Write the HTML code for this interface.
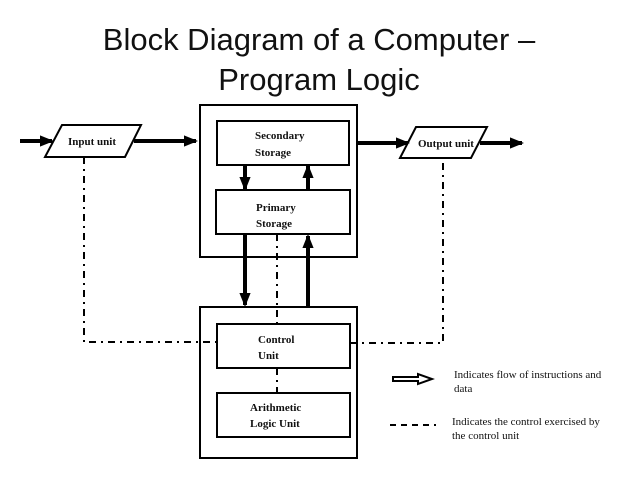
<!DOCTYPE html>
<html><head><style>
body{margin:0;background:#fff;width:638px;height:478px;overflow:hidden;font-family:"Liberation Sans",sans-serif}
.t{position:absolute;left:0;width:638px;text-align:center;font-size:31px;color:#111}
</style></head><body>
<div class="t" style="top:22px">Block Diagram of a Computer –</div>
<div class="t" style="top:62px">Program Logic</div>
<svg width="638" height="478" style="position:absolute;left:0;top:0" font-family="Liberation Serif, serif" font-weight="bold">
<defs><marker id="a" markerWidth="4" markerHeight="4" refX="3" refY="2" orient="auto" markerUnits="strokeWidth"><path d="M0,0.6L3.5,2L0,3.4z" fill="#000"/></marker></defs>
<g fill="none" stroke="#000" stroke-width="2">
<rect x="200" y="105" width="157" height="152"/>
<rect x="217" y="121" width="132" height="44"/>
<rect x="216" y="190" width="134" height="44"/>
<rect x="200" y="307" width="157" height="151"/>
<rect x="217" y="324" width="133" height="44"/>
<rect x="217" y="393" width="133" height="44"/>
<polygon points="62,125 141,125 125,157 45,157"/>
<polygon points="416,127 487,127 471,158 400,158"/>
</g>
<g stroke="#000" stroke-width="4">
<line x1="20" y1="141" x2="52" y2="141" marker-end="url(#a)"/>
<line x1="134" y1="141" x2="196" y2="141" marker-end="url(#a)"/>
<line x1="357" y1="143" x2="408" y2="143" marker-end="url(#a)"/>
<line x1="480" y1="143" x2="522" y2="143" marker-end="url(#a)"/>
<line x1="245" y1="165" x2="245" y2="189" marker-end="url(#a)"/>
<line x1="308" y1="190" x2="308" y2="166" marker-end="url(#a)"/>
<line x1="245" y1="234" x2="245" y2="305" marker-end="url(#a)"/>
<line x1="308" y1="307" x2="308" y2="236" marker-end="url(#a)"/>
</g>
<g fill="none" stroke="#000" stroke-width="2" stroke-dasharray="7,5,2,5">
<polyline points="84,157 84,342 217,342"/>
<polyline points="350,343 443,343 443,158"/>
<line x1="277" y1="234" x2="277" y2="324"/>
<line x1="277" y1="368" x2="277" y2="393"/>
</g>
<path d="M393,377H418V374L432,379L418,384V381H393z" fill="#fff" stroke="#000" stroke-width="2"/>
<line x1="390" y1="425" x2="436" y2="425" stroke="#000" stroke-width="2" stroke-dasharray="6,5"/>
<g font-size="11" fill="#111">
<text x="68" y="145">Input unit</text>
<text x="418" y="147">Output unit</text>
<text x="255" y="139">Secondary</text><text x="255" y="156">Storage</text>
<text x="256" y="211">Primary</text><text x="256" y="227">Storage</text>
<text x="258" y="343">Control</text><text x="258" y="359">Unit</text>
<text x="250" y="411">Arithmetic</text><text x="250" y="427">Logic Unit</text>
</g>
<g font-size="11" font-weight="normal" fill="#111">
<text x="454" y="378">Indicates flow of instructions and</text><text x="454" y="392">data</text>
<text x="452" y="425">Indicates the control exercised by</text><text x="452" y="439">the control unit</text>
</g>
</svg>
</body></html>
